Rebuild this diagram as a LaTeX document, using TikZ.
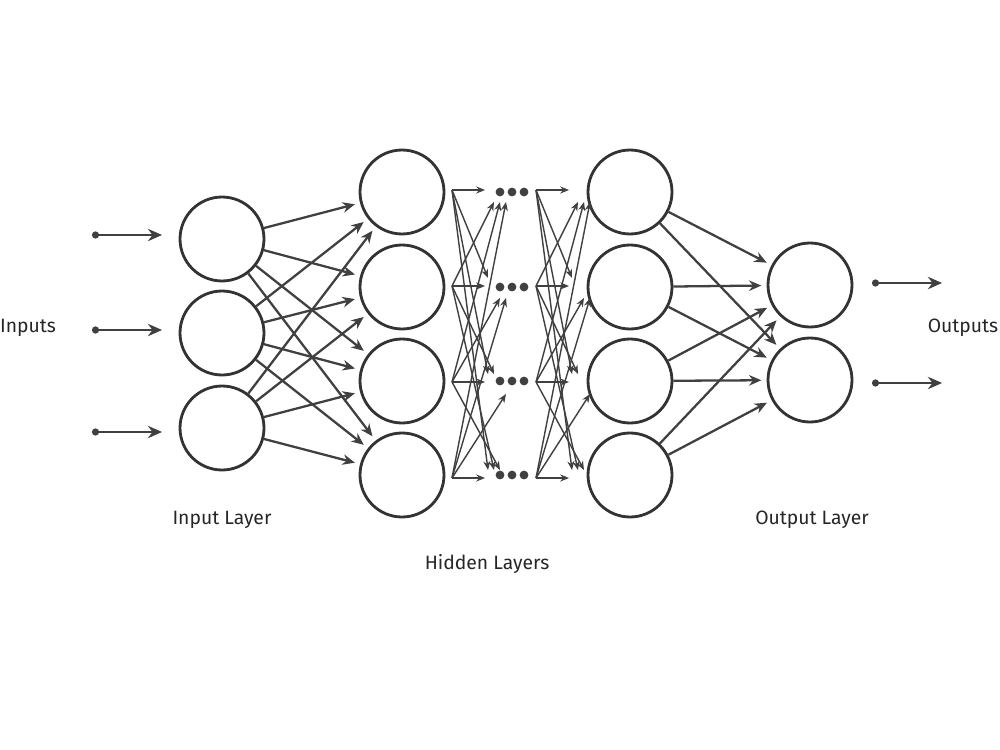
\documentclass[tikz,border=0pt]{standalone}
\usepackage{fontspec}
\setmainfont{Fira Sans}
\usetikzlibrary{arrows.meta}
\begin{document}
\begin{tikzpicture}[x=0.02cm,y=-0.02cm,
  neuron/.style={circle,draw=black!80,line width=1.6pt,minimum size=1.68cm,inner sep=0pt},
  conn/.style={draw=black!75,line width=1.3pt,-{Stealth[length=7pt,width=6pt]}},
  thin conn/.style={draw=black!75,line width=0.8pt,-{Stealth[length=5pt,width=4pt]}},
  io/.style={draw=black!75,line width=1.6pt,{Circle[length=4pt]}-{Stealth[length=8pt,width=7pt]}},
  lbl/.style={font=\fontsize{11}{13}\selectfont,text=black!85},
  dot/.style={circle,fill=black!75,inner sep=0pt,minimum size=5pt}]
\useasboundingbox (0,0) rectangle (1000,750);
\foreach \y [count=\i] in {239,333,428} \node[neuron] (a\i) at (222,\y) {};
\foreach \y [count=\i] in {192,287,381,475} {
  \node[neuron] (h\i) at (402,\y) {};
  \node[neuron] (g\i) at (630,\y) {};
  \foreach \k in {0,1,2} \node[dot] (d\i\k) at (500+12*\k,\y) {};
}
\foreach \y [count=\i] in {285,380} \node[neuron] (o\i) at (810,\y) {};
% input arrows
\foreach \y [count=\i] in {235,330,432} {
  \coordinate (is\i) at (92,\y); \coordinate (ie\i) at (162,\y);
  \draw[io] (is\i) -- (ie\i);
}
\foreach \y [count=\i] in {283,383} {
  \coordinate (os\i) at (872,\y); \coordinate (oe\i) at (942,\y);
  \draw[io] (os\i) -- (oe\i);
}
% input -> hidden1
\foreach \i in {1,2,3} \foreach \j in {1,2,3,4}
  \draw[conn,shorten >=3pt] (a\i) -- (h\j);
% hidden2 -> output
\foreach \i in {1,2,3,4} \foreach \j in {1,2}
  \draw[conn,shorten >=3pt] (g\i) -- (o\j);
% dense middle connections
\foreach \yi [count=\i] in {190,286,382,478} {
  \coordinate (ls\i) at (452,\yi);
  \coordinate (rs\i) at (536,\yi);
  \foreach \yj [count=\j] in {190,286,382,478} {
    \pgfmathsetmacro{\ex}{\i==\j ? 485 : 482+6*\i}
    \pgfmathsetmacro{\ey}{\i==\j ? \yj : \yj+(\i<\j ? -8 : 12)}
    \coordinate (le\i\j) at (\ex,\ey);
    \coordinate (re\i\j) at (\ex+84,\ey);
    \draw[thin conn] (ls\i) -- (le\i\j);
    \draw[thin conn] (rs\i) -- (re\i\j);
  }
}
\node[lbl] (t1) at (28,328) {Inputs};
\node[lbl] (t2) at (963,328) {Outputs};
\node[lbl] (t3) at (222,520) {Input Layer};
\node[lbl] (t4) at (487,564) {Hidden Layers};
\node[lbl] (t5) at (812,520) {Output Layer};
\end{tikzpicture}
\end{document}
